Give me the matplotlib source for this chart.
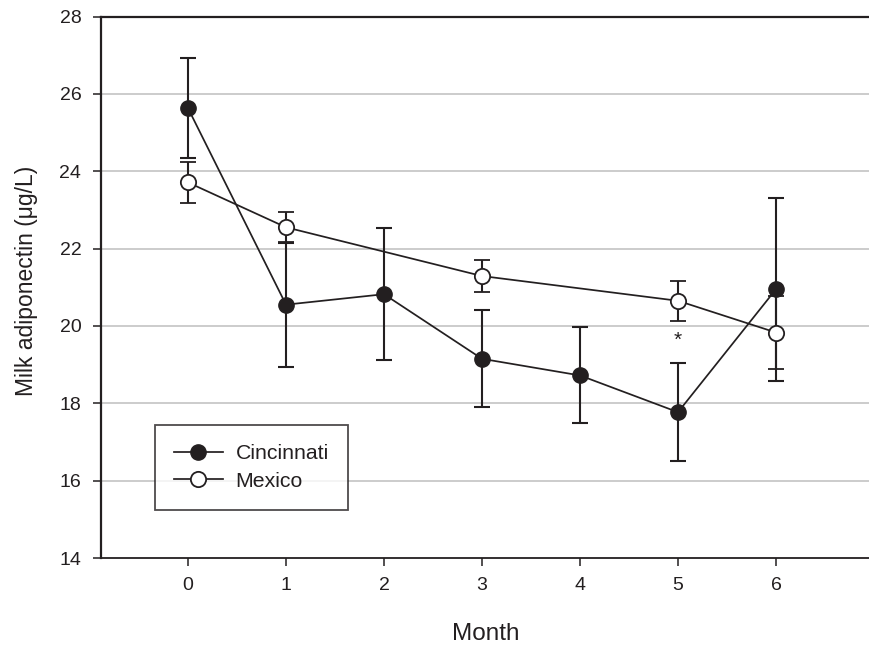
import numpy as np
import matplotlib
matplotlib.use("Agg")
import matplotlib.pyplot as plt
from matplotlib.lines import Line2D

plt.rcParams['font.family'] = ['Liberation Sans', 'DejaVu Sans']

# data
cin_month = [0, 1, 2, 3, 4, 5, 6]
cin_mean = [25.63, 20.55, 20.82, 19.15, 18.72, 17.77, 20.95]
cin_err = [1.30, 1.60, 1.71, 1.25, 1.24, 1.26, 2.37]
mex_month = [0, 1, 3, 5, 6]
mex_mean = [23.71, 22.55, 21.29, 20.65, 19.83]
mex_err = [0.52, 0.39, 0.42, 0.51, 0.95]
star_month = 5
star_y = 19.62
yticks = [14, 16, 18, 20, 22, 24, 26, 28]
xticks = [0, 1, 2, 3, 4, 5, 6, 7]
series_names = ['Cincinnati', 'Mexico']

ink = '#231f20'
W, H = 870, 647
fig = plt.figure(figsize=(W / 100, H / 100), dpi=100)
# axes runs off the right edge like the cropped original
left, right, top, bottom = 100.7, 905, 16.5, 558
ax = fig.add_axes([left / W, 1 - bottom / H, (right - left) / W, (bottom - top) / H])

px = 98.0
ax.set_xlim((left - 188) / px, (right - 188) / px)
ax.set_ylim(14, 28)

for y in yticks[1:-1]:
    ax.axhline(y, color='#c8c8c8', lw=1.3, zorder=0)

ax.errorbar(cin_month, cin_mean, yerr=cin_err, color=ink, lw=1.25, marker='o',
            ms=11, mfc=ink, mec=ink, elinewidth=1.5, capsize=6, capthick=1.5,
            zorder=3)
ax.errorbar(mex_month, mex_mean, yerr=mex_err, color=ink, lw=1.25, marker='o',
            ms=11, mfc='white', mec=ink, mew=1.3, elinewidth=1.5, capsize=6,
            capthick=1.5, zorder=4)

ax.text(star_month, star_y, '*', ha='center', va='center', fontsize=15, color=ink)

ax.set_xticks(xticks)
ax.set_yticks(yticks)
ax.tick_params(axis='both', direction='out', length=6, width=1.1, color=ink,
               labelsize=14, labelcolor=ink, pad=8)
for s in ['left', 'top']:
    ax.spines[s].set_linewidth(1.6)
    ax.spines[s].set_color(ink)
ax.spines['bottom'].set_linewidth(1.3)
ax.spines['bottom'].set_color(ink)
ax.spines['right'].set_visible(False)

ax.set_xlabel('Month', fontsize=17.5, color=ink, va='center')
ax.xaxis.set_label_coords(486 / W, 1 - 634 / H, transform=fig.transFigure)
ax.set_ylabel('Milk adiponectin (\u03bcg/L)', fontsize=16.5, color=ink, va='center')
ax.yaxis.set_label_coords(27 / W, 1 - 281 / H, transform=fig.transFigure)

handles = [Line2D([], [], color=ink, lw=1.25, marker='o', ms=11, mfc=ink, mec=ink),
           Line2D([], [], color=ink, lw=1.25, marker='o', ms=11, mfc='white',
                  mec=ink, mew=1.3)]
leg = ax.legend(handles, series_names, loc='upper left',
                bbox_to_anchor=(154.7 / W, 1 - 425 / H),
                bbox_transform=fig.transFigure, fontsize=15.3, frameon=True,
                fancybox=False, handlelength=2.3, handletextpad=0.6,
                borderpad=0.9, labelspacing=0.4, borderaxespad=0)
leg.get_frame().set_edgecolor(ink)
leg.get_frame().set_linewidth(1.3)
for t in leg.get_texts():
    t.set_color(ink)

fig.savefig('out.png', dpi=100)
